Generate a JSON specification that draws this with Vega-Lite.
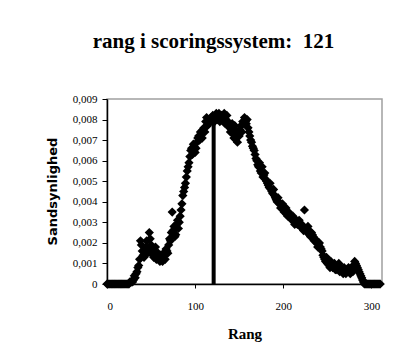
{
  "$schema": "https://vega.github.io/schema/vega-lite/v6.json",
  "width": 275,
  "height": 185,
  "autosize": {"type": "none"},
  "padding": {"left": 107, "top": 99, "right": 35, "bottom": 76},
  "background": "white",
  "config": {
    "view": {"stroke": "#a0a0a0", "strokeWidth": 1.5},
    "font": "Liberation Serif",
    "axis": {"labelOverlap": false, "labelBound": false}
  },
  "title": {
    "text": "rang i scoringssystem:\u00a0 121",
    "anchor": "middle",
    "dx": -31,
    "offset": 24,
    "baseline": "alphabetic",
    "font": "Liberation Serif",
    "fontSize": 21,
    "fontWeight": "bold",
    "color": "black"
  },
  "layer": [
    {
      "data": {"values": [
        {"rang": 0, "p": 0}, {"rang": 2, "p": 0}, {"rang": 4, "p": 0}, {"rang": 6, "p": 0}, {"rang": 8, "p": 0},
        {"rang": 10, "p": 0}, {"rang": 12, "p": 0}, {"rang": 14, "p": 0}, {"rang": 16, "p": 0}, {"rang": 18, "p": 0},
        {"rang": 20, "p": 0}, {"rang": 22, "p": 0}, {"rang": 24, "p": 0}, {"rang": 26, "p": 0.0001}, {"rang": 28, "p": 0.0001},
        {"rang": 30, "p": 0.0002}, {"rang": 32, "p": 0.0003}, {"rang": 34, "p": 0.0006}, {"rang": 36, "p": 0.0009}, {"rang": 38, "p": 0.0021},
        {"rang": 40, "p": 0.0016}, {"rang": 42, "p": 0.0013}, {"rang": 44, "p": 0.0018}, {"rang": 46, "p": 0.0015}, {"rang": 48, "p": 0.0025},
        {"rang": 50, "p": 0.0019}, {"rang": 52, "p": 0.0014}, {"rang": 54, "p": 0.0016}, {"rang": 56, "p": 0.0012}, {"rang": 58, "p": 0.0015},
        {"rang": 60, "p": 0.0011}, {"rang": 62, "p": 0.0013}, {"rang": 64, "p": 0.0015}, {"rang": 66, "p": 0.0012}, {"rang": 68, "p": 0.0016},
        {"rang": 70, "p": 0.0019}, {"rang": 72, "p": 0.0021}, {"rang": 74, "p": 0.0035}, {"rang": 75, "p": 0.0026}, {"rang": 76, "p": 0.0028},
        {"rang": 78, "p": 0.0024}, {"rang": 80, "p": 0.0031}, {"rang": 82, "p": 0.003}, {"rang": 84, "p": 0.0036}, {"rang": 86, "p": 0.0043},
        {"rang": 88, "p": 0.0047}, {"rang": 90, "p": 0.0052}, {"rang": 92, "p": 0.0057}, {"rang": 94, "p": 0.0062}, {"rang": 96, "p": 0.0066},
        {"rang": 98, "p": 0.0068}, {"rang": 100, "p": 0.0064}, {"rang": 102, "p": 0.0069}, {"rang": 104, "p": 0.0072}, {"rang": 106, "p": 0.0074},
        {"rang": 108, "p": 0.0071}, {"rang": 110, "p": 0.0076}, {"rang": 112, "p": 0.0079}, {"rang": 114, "p": 0.0077}, {"rang": 116, "p": 0.008},
        {"rang": 118, "p": 0.0081}, {"rang": 120, "p": 0.0082}, {"rang": 122, "p": 0.0079}, {"rang": 124, "p": 0.0083}, {"rang": 126, "p": 0.0081},
        {"rang": 128, "p": 0.0079}, {"rang": 130, "p": 0.0082}, {"rang": 132, "p": 0.008}, {"rang": 134, "p": 0.0078}, {"rang": 136, "p": 0.0082},
        {"rang": 138, "p": 0.0077}, {"rang": 140, "p": 0.0074}, {"rang": 142, "p": 0.0078}, {"rang": 144, "p": 0.0071}, {"rang": 146, "p": 0.0075},
        {"rang": 148, "p": 0.0069}, {"rang": 150, "p": 0.0072}, {"rang": 152, "p": 0.0077}, {"rang": 154, "p": 0.0079}, {"rang": 156, "p": 0.0081},
        {"rang": 158, "p": 0.0078}, {"rang": 160, "p": 0.0076}, {"rang": 162, "p": 0.0072}, {"rang": 164, "p": 0.0069}, {"rang": 166, "p": 0.0066},
        {"rang": 168, "p": 0.0063}, {"rang": 170, "p": 0.006}, {"rang": 172, "p": 0.0057}, {"rang": 174, "p": 0.0055}, {"rang": 176, "p": 0.0057},
        {"rang": 178, "p": 0.0053}, {"rang": 180, "p": 0.0051}, {"rang": 182, "p": 0.0049}, {"rang": 184, "p": 0.0047}, {"rang": 186, "p": 0.0046},
        {"rang": 188, "p": 0.0044}, {"rang": 190, "p": 0.0043}, {"rang": 192, "p": 0.0041}, {"rang": 194, "p": 0.0042}, {"rang": 196, "p": 0.0039},
        {"rang": 198, "p": 0.0038}, {"rang": 200, "p": 0.0037}, {"rang": 202, "p": 0.0036}, {"rang": 204, "p": 0.0034}, {"rang": 206, "p": 0.0035},
        {"rang": 208, "p": 0.0033}, {"rang": 210, "p": 0.0031}, {"rang": 212, "p": 0.0032}, {"rang": 214, "p": 0.003}, {"rang": 216, "p": 0.0029},
        {"rang": 218, "p": 0.0031}, {"rang": 220, "p": 0.0028}, {"rang": 222, "p": 0.0027}, {"rang": 224, "p": 0.0036}, {"rang": 226, "p": 0.0026},
        {"rang": 228, "p": 0.0028}, {"rang": 230, "p": 0.0024}, {"rang": 232, "p": 0.0025}, {"rang": 234, "p": 0.0023}, {"rang": 236, "p": 0.0022},
        {"rang": 238, "p": 0.002}, {"rang": 240, "p": 0.0019}, {"rang": 242, "p": 0.0018}, {"rang": 244, "p": 0.0016}, {"rang": 246, "p": 0.0013},
        {"rang": 248, "p": 0.0011}, {"rang": 250, "p": 0.001}, {"rang": 252, "p": 0.0009}, {"rang": 254, "p": 0.0011}, {"rang": 256, "p": 0.0008},
        {"rang": 258, "p": 0.001}, {"rang": 260, "p": 0.0007}, {"rang": 262, "p": 0.0009}, {"rang": 264, "p": 0.0006}, {"rang": 266, "p": 0.0008},
        {"rang": 268, "p": 0.0005}, {"rang": 270, "p": 0.0007}, {"rang": 272, "p": 0.0006}, {"rang": 274, "p": 0.0008}, {"rang": 276, "p": 0.0005},
        {"rang": 278, "p": 0.0007}, {"rang": 280, "p": 0.0009}, {"rang": 282, "p": 0.001}, {"rang": 284, "p": 0.0008}, {"rang": 286, "p": 0.0006},
        {"rang": 288, "p": 0.0004}, {"rang": 290, "p": 0.0002}, {"rang": 292, "p": 0}, {"rang": 294, "p": 0}, {"rang": 296, "p": 0},
        {"rang": 298, "p": 0}, {"rang": 300, "p": 0}, {"rang": 302, "p": 0}, {"rang": 304, "p": 0}, {"rang": 306, "p": 0},
        {"rang": 308, "p": 0}, {"rang": 310, "p": 0},
        {"rang": 1, "p": 0}, {"rang": 3, "p": 0}, {"rang": 5, "p": 0}, {"rang": 7, "p": 0}, {"rang": 9, "p": 0},
        {"rang": 11, "p": 0}, {"rang": 13, "p": 0}, {"rang": 15, "p": 0}, {"rang": 17, "p": 0}, {"rang": 19, "p": 0},
        {"rang": 21, "p": 0}, {"rang": 23, "p": 0}, {"rang": 25, "p": 0}, {"rang": 27, "p": 0.0001}, {"rang": 29, "p": 0.0001},
        {"rang": 31, "p": 0.0004}, {"rang": 33, "p": 0.0005}, {"rang": 35, "p": 0.0008}, {"rang": 37, "p": 0.0012}, {"rang": 39, "p": 0.0019},
        {"rang": 41, "p": 0.0014}, {"rang": 43, "p": 0.0016}, {"rang": 45, "p": 0.0021}, {"rang": 47, "p": 0.0017}, {"rang": 49, "p": 0.0022},
        {"rang": 51, "p": 0.0016}, {"rang": 53, "p": 0.0013}, {"rang": 55, "p": 0.0018}, {"rang": 57, "p": 0.0014}, {"rang": 59, "p": 0.0012},
        {"rang": 61, "p": 0.0014}, {"rang": 63, "p": 0.0011}, {"rang": 65, "p": 0.0014}, {"rang": 67, "p": 0.0017}, {"rang": 69, "p": 0.0015},
        {"rang": 71, "p": 0.0022}, {"rang": 73, "p": 0.0025}, {"rang": 77, "p": 0.0023}, {"rang": 79, "p": 0.0029}, {"rang": 81, "p": 0.0027},
        {"rang": 83, "p": 0.0033}, {"rang": 85, "p": 0.0039}, {"rang": 87, "p": 0.0045}, {"rang": 89, "p": 0.0049}, {"rang": 91, "p": 0.0055},
        {"rang": 93, "p": 0.0059}, {"rang": 95, "p": 0.0065}, {"rang": 97, "p": 0.0063}, {"rang": 99, "p": 0.0067}, {"rang": 101, "p": 0.0066},
        {"rang": 103, "p": 0.0071}, {"rang": 105, "p": 0.007}, {"rang": 107, "p": 0.0073}, {"rang": 109, "p": 0.0075}, {"rang": 111, "p": 0.0074},
        {"rang": 113, "p": 0.0081}, {"rang": 115, "p": 0.0078}, {"rang": 117, "p": 0.0079}, {"rang": 119, "p": 0.008}, {"rang": 121, "p": 0.0079},
        {"rang": 123, "p": 0.0081}, {"rang": 125, "p": 0.008}, {"rang": 127, "p": 0.0083}, {"rang": 129, "p": 0.008}, {"rang": 131, "p": 0.0081},
        {"rang": 133, "p": 0.0083}, {"rang": 135, "p": 0.008}, {"rang": 137, "p": 0.0079}, {"rang": 139, "p": 0.0076}, {"rang": 141, "p": 0.0076},
        {"rang": 143, "p": 0.0073}, {"rang": 145, "p": 0.0077}, {"rang": 147, "p": 0.0072}, {"rang": 149, "p": 0.0074}, {"rang": 151, "p": 0.0075},
        {"rang": 153, "p": 0.0074}, {"rang": 155, "p": 0.0078}, {"rang": 157, "p": 0.0079}, {"rang": 159, "p": 0.008}, {"rang": 161, "p": 0.0074},
        {"rang": 163, "p": 0.007}, {"rang": 165, "p": 0.0067}, {"rang": 167, "p": 0.0065}, {"rang": 169, "p": 0.0061}, {"rang": 171, "p": 0.0058},
        {"rang": 173, "p": 0.0059}, {"rang": 175, "p": 0.0054}, {"rang": 177, "p": 0.0052}, {"rang": 179, "p": 0.0054}, {"rang": 181, "p": 0.005},
        {"rang": 183, "p": 0.0048}, {"rang": 185, "p": 0.0049}, {"rang": 187, "p": 0.0045}, {"rang": 189, "p": 0.0046}, {"rang": 191, "p": 0.0042},
        {"rang": 193, "p": 0.004}, {"rang": 195, "p": 0.004}, {"rang": 197, "p": 0.0037}, {"rang": 199, "p": 0.0039}, {"rang": 201, "p": 0.0035},
        {"rang": 203, "p": 0.0037}, {"rang": 205, "p": 0.0033}, {"rang": 207, "p": 0.0034}, {"rang": 209, "p": 0.0032}, {"rang": 211, "p": 0.0033},
        {"rang": 213, "p": 0.0029}, {"rang": 215, "p": 0.0031}, {"rang": 217, "p": 0.003}, {"rang": 219, "p": 0.0028}, {"rang": 221, "p": 0.0029},
        {"rang": 223, "p": 0.0026}, {"rang": 225, "p": 0.0027}, {"rang": 227, "p": 0.0025}, {"rang": 229, "p": 0.0026}, {"rang": 231, "p": 0.0023},
        {"rang": 233, "p": 0.0024}, {"rang": 235, "p": 0.0021}, {"rang": 237, "p": 0.0021}, {"rang": 239, "p": 0.0018}, {"rang": 241, "p": 0.002},
        {"rang": 243, "p": 0.0017}, {"rang": 245, "p": 0.0014}, {"rang": 247, "p": 0.0012}, {"rang": 249, "p": 0.0013}, {"rang": 251, "p": 0.0011},
        {"rang": 253, "p": 0.0008}, {"rang": 255, "p": 0.001}, {"rang": 257, "p": 0.0009}, {"rang": 259, "p": 0.0007}, {"rang": 261, "p": 0.0008},
        {"rang": 263, "p": 0.001}, {"rang": 265, "p": 0.0007}, {"rang": 267, "p": 0.0006}, {"rang": 269, "p": 0.0008}, {"rang": 271, "p": 0.0005},
        {"rang": 273, "p": 0.0007}, {"rang": 275, "p": 0.0006}, {"rang": 277, "p": 0.0008}, {"rang": 279, "p": 0.0006}, {"rang": 281, "p": 0.0011},
        {"rang": 283, "p": 0.0009}, {"rang": 285, "p": 0.0007}, {"rang": 287, "p": 0.0005}, {"rang": 289, "p": 0.0003}, {"rang": 291, "p": 0.0001},
        {"rang": 293, "p": 0}, {"rang": 295, "p": 0}, {"rang": 297, "p": 0}, {"rang": 299, "p": 0}, {"rang": 301, "p": 0},
        {"rang": 303, "p": 0}, {"rang": 305, "p": 0}, {"rang": 307, "p": 0}, {"rang": 309, "p": 0}
      ]},
      "mark": {"type": "point", "shape": "diamond", "filled": true, "color": "black", "opacity": 1, "size": 85, "clip": false},
      "encoding": {
        "x": {
          "field": "rang", "type": "quantitative",
          "scale": {"domain": [0, 312], "nice": false, "zero": false},
          "axis": {
            "title": "Rang",
            "values": [0, 100, 200, 300],
            "grid": false,
            "domainColor": "black", "domainWidth": 1.5,
            "tickColor": "black", "tickSize": 4, "tickWidth": 1,
            "labelFont": "Liberation Serif", "labelFontSize": 11, "labelColor": "black", "labelPadding": 12,
            "titleFont": "Liberation Serif", "titleFontSize": 15, "titleFontWeight": "bold", "titleColor": "black",
            "titlePadding": 15
          }
        },
        "y": {
          "field": "p", "type": "quantitative",
          "scale": {"domain": [0, 0.009], "nice": false},
          "axis": {
            "title": "Sandsynlighed",
            "tickCount": 10,
            "labelExpr": "datum.value == 0 ? '0' : replace(format(datum.value, '.3f'), '.', ',')",
            "labelOverlap": false,
            "grid": false,
            "domainColor": "black", "domainWidth": 1.5,
            "tickColor": "black", "tickSize": 5, "tickWidth": 1,
            "labelFont": "Liberation Serif", "labelFontSize": 11, "labelColor": "black", "labelPadding": 5,
            "titleFont": "DejaVu Sans", "titleFontSize": 13, "titleFontWeight": "bold", "titleColor": "black",
            "titleX": -55, "titleY": 92, "titleAngle": -90, "titleAlign": "center", "titleBaseline": "middle"
          }
        }
      }
    },
    {
      "data": {"values": [{"rang": 121, "p0": 0, "p1": 0.008}]},
      "mark": {"type": "rule", "color": "black", "strokeWidth": 4, "clip": false},
      "encoding": {
        "x": {"field": "rang", "type": "quantitative"},
        "y": {"field": "p0", "type": "quantitative"},
        "y2": {"field": "p1"}
      }
    }
  ]
}
